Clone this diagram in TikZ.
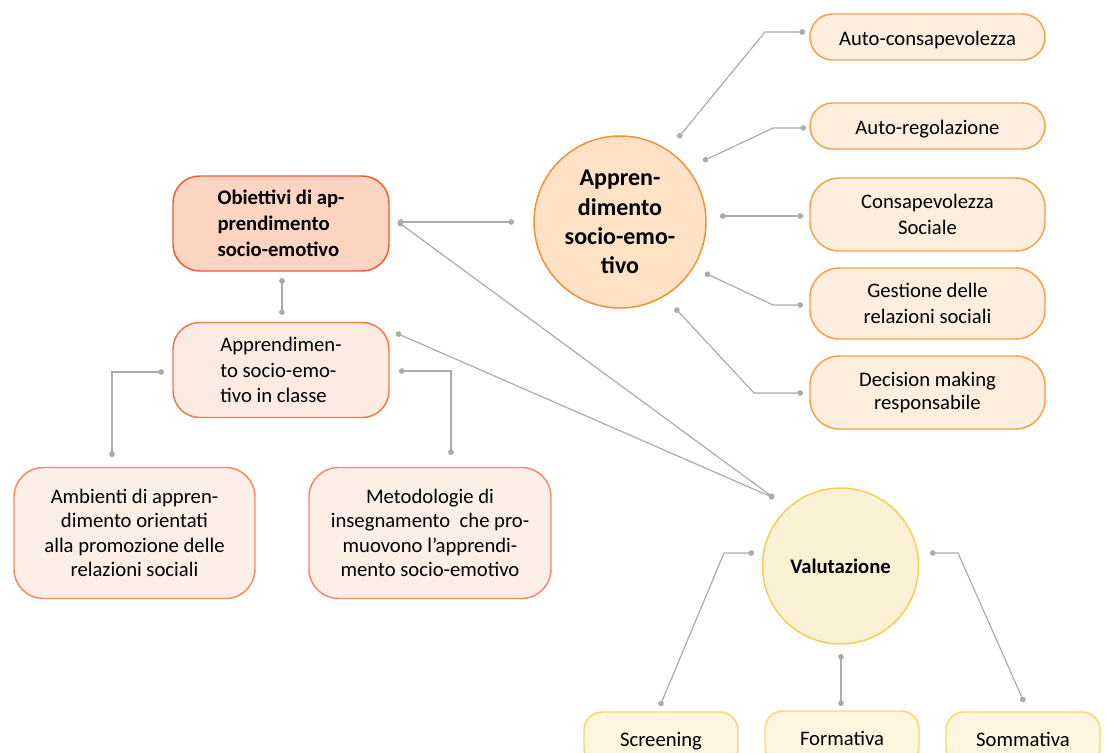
\documentclass[tikz,border=0pt]{standalone}
\usepackage{fontspec}
\setmainfont{Carlito}
\usetikzlibrary{arrows.meta}
\definecolor{lnkgray}{HTML}{ABABAB}
\definecolor{obfill}{HTML}{FCD5C2}
\definecolor{obdraw}{HTML}{EE5A2E}
\definecolor{clfill}{HTML}{FDEBE1}
\definecolor{cldraw}{HTML}{F0774C}
\definecolor{subfill}{HTML}{FDEEE6}
\definecolor{subdraw}{HTML}{F28A66}
\definecolor{selfill}{HTML}{FDE2C6}
\definecolor{seldraw}{HTML}{F39035}
\definecolor{compfill}{HTML}{FEEEDE}
\definecolor{compdraw}{HTML}{F5A04C}
\definecolor{valfill}{HTML}{FBF2D6}
\definecolor{valdraw}{HTML}{F7CF4C}
\definecolor{typfill}{HTML}{FDF5DD}
\definecolor{typdraw}{HTML}{F9D868}
\begin{document}
\begin{tikzpicture}[x=0.75pt,y=0.75pt,yscale=-1,
	box/.style={draw, line width=1.1pt, inner sep=0pt, align=center, font=\fontsize{15.5}{19}\selectfont},
	oneline/.style={text height=#1, text depth=3.4pt},
	oneline/.default=15pt,
	ball/.style={draw, circle, line width=1.1pt, inner sep=0pt, align=center, font=\fontsize{18}{22}\selectfont\bfseries},
	link/.style={draw=lnkgray, line width=0.9pt, {Circle[length=4.2pt]}-{Circle[length=4.2pt]}}]
	%uncomment if require: \path (0,753); %set diagram left start at 0, and has height of 753
	\useasboundingbox (0,0) rectangle (1108,753);
	
	%Shape: Rounded Rect [id:ob]
	\node [box, fill=obfill, draw=obdraw, rounded corners=20pt, minimum width=162pt, minimum height=71.25pt, align=left, font=\fontsize{15.5}{19.5}\selectfont\bfseries] (ob) at (281,223.5) {Obiettivi di ap-\\prendimento\\socio-emotivo};
	%Shape: Rounded Rect [id:cl]
	\node [box, fill=clfill, draw=cldraw, rounded corners=20pt, minimum width=162pt, minimum height=71.25pt, align=left] (cl) at (281,370) {Apprendimen-\\to socio-emo-\\tivo in classe};
	%Shape: Rounded Rect [id:amb]
	\node [box, fill=subfill, draw=subdraw, rounded corners=22pt, minimum width=180.75pt, minimum height=98.25pt, font=\fontsize{15.5}{18.3}\selectfont] (amb) at (134.5,533) {Ambienti di appren-\\dimento orientati\\alla promozione delle\\relazioni sociali};
	%Shape: Rounded Rect [id:met]
	\node [box, fill=subfill, draw=subdraw, rounded corners=22pt, minimum width=181.5pt, minimum height=98.25pt, font=\fontsize{15.5}{18.3}\selectfont] (met) at (430,533) {Metodologie di\\insegnamento\ \ che pro-\\muovono l’apprendi-\\mento socio-emotivo};
	
	%Shape: Circle [id:sel]
	\node [ball, fill=selfill, draw=seldraw, minimum size=129pt] (sel) at (620,222) {Appren-\\dimento\\socio-emo-\\tivo};
	%Shape: Rounded Rect [id:ac]
	\node [box, oneline=16pt, fill=compfill, draw=compdraw, rounded corners=17pt, minimum width=176.25pt, minimum height=34.5pt] (ac) at (927.5,37) {Auto-consapevolezza};
	%Shape: Rounded Rect [id:ar]
	\node [box, oneline=16pt, fill=compfill, draw=compdraw, rounded corners=17pt, minimum width=176.25pt, minimum height=34.5pt] (ar) at (927.5,126) {Auto-regolazione};
	%Shape: Rounded Rect [id:cs]
	\node [box, fill=compfill, draw=compdraw, rounded corners=22pt, minimum width=176.25pt, minimum height=54.75pt] (cs) at (927.5,214.5) {\rule{0pt}{2pt}Consapevolezza\\Sociale};
	%Shape: Rounded Rect [id:gr]
	\node [box, fill=compfill, draw=compdraw, rounded corners=22pt, minimum width=176.25pt, minimum height=53.25pt] (gr) at (927.5,303.5) {\rule{0pt}{2pt}Gestione delle\\relazioni sociali};
	%Shape: Rounded Rect [id:dm]
	\node [box, fill=compfill, draw=compdraw, rounded corners=22pt, minimum width=176.25pt, minimum height=54.75pt, font=\fontsize{15.5}{17.5}\selectfont] (dm) at (927.5,392.5) {Decision making\\responsabile};
	
	%Shape: Circle [id:val]
	\node [ball, fill=valfill, draw=valdraw, minimum size=117pt, font=\fontsize{15.5}{19}\selectfont\bfseries] (val) at (840.5,566) {Valutazione};
	%Shape: Rounded Rect [id:scr]
	\node [box, oneline, fill=typfill, draw=typdraw, rounded corners=13.5pt, minimum width=115.5pt, minimum height=40.5pt] (scr) at (661,739) {Screening};
	%Shape: Rounded Rect [id:frm]
	\node [box, oneline, fill=typfill, draw=typdraw, rounded corners=13.5pt, minimum width=115.5pt, minimum height=40.5pt] (frm) at (842,738) {Formativa};
	%Shape: Rounded Rect [id:som]
	\node [box, oneline, fill=typfill, draw=typdraw, rounded corners=13.5pt, minimum width=115.5pt, minimum height=40.5pt] (som) at (1023,739) {Sommativa};
	
	% Connector ends
	\coordinate (ob-e) at (398,222);
	\coordinate (sel-w) at (514,222);
	\coordinate (ob-s) at (282,278);
	\coordinate (cl-n) at (282,315);
	\coordinate (cl-ne) at (396,333);
	\coordinate (cl-w) at (164,372);
	\coordinate (cl-e) at (399,371);
	\coordinate (amb-n) at (112,457);
	\coordinate (met-n) at (451,455);
	\coordinate (val-nw) at (774,498);
	\coordinate (sel-1) at (678,138);
	\coordinate (sel-2) at (703,161);
	\coordinate (sel-3) at (720,216);
	\coordinate (sel-4) at (705,273);
	\coordinate (sel-5) at (675,308);
	\coordinate (ac-w) at (805,32);
	\coordinate (ar-w) at (806,128);
	\coordinate (cs-w) at (803,216);
	\coordinate (gr-w) at (803,305);
	\coordinate (dm-w) at (803,393);
	\coordinate (val-w) at (754,553);
	\coordinate (val-s) at (841,654);
	\coordinate (val-e) at (930,553);
	\coordinate (scr-n) at (660,706);
	\coordinate (frm-n) at (841,706);
	\coordinate (som-n) at (1024,702);
	
	%Straight Lines
	\draw [link] (ob-e) -- (sel-w) ;
	\draw [link] (ob-s) -- (cl-n) ;
	\draw [link] (ob-e) -- (val-nw) ;
	\draw [link] (cl-ne) -- (val-nw) ;
	\draw [link] (cl-w) -- (112,372) -- (amb-n) ;
	\draw [link] (cl-e) -- (451,371) -- (met-n) ;
	%Straight Lines
	\draw [link] (sel-1) -- (765,32) -- (ac-w) ;
	\draw [link] (sel-2) -- (773,128) -- (ar-w) ;
	\draw [link] (sel-3) -- (cs-w) ;
	\draw [link] (sel-4) -- (773,305) -- (gr-w) ;
	\draw [link] (sel-5) -- (754,393) -- (dm-w) ;
	%Straight Lines
	\draw [link] (val-w) -- (724,553) -- (scr-n) ;
	\draw [link] (val-s) -- (frm-n) ;
	\draw [link] (val-e) -- (958,553) -- (som-n) ;
\end{tikzpicture}
\end{document}
